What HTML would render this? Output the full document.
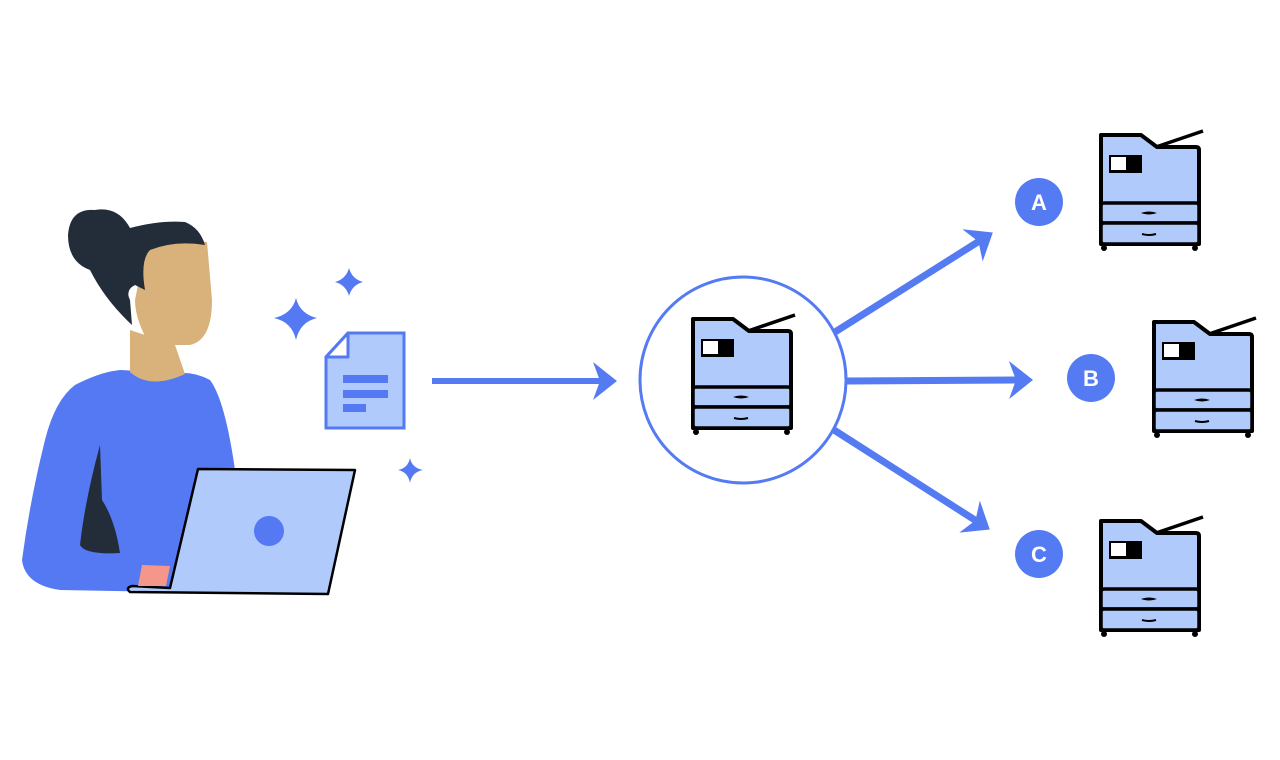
<!DOCTYPE html>
<html><head><meta charset="utf-8"><style>html,body{margin:0;padding:0;background:#fff}svg{display:block}</style></head>
<body>
<svg width="1280" height="760" viewBox="0 0 1280 760" xmlns="http://www.w3.org/2000/svg">
<defs>
<marker id="ah" markerUnits="userSpaceOnUse" markerWidth="40" markerHeight="44" refX="10" refY="20" orient="auto" viewBox="0 0 40 44">
<path d="M24,20 L0,1 L7,20 L0,39 Z" fill="#557bf3"/>
</marker>
<g id="pr">
<path d="M2,4 L42,4 L58,16 L97,16 Q100,16 100,19 L100,113 L2,113 Z" fill="#b0cbfb" stroke="#000" stroke-width="4" stroke-linejoin="round"/>
<line x1="57" y1="16" x2="104" y2="0" stroke="#000" stroke-width="3.5"/>
<rect x="10" y="24" width="33" height="18" fill="#000"/>
<rect x="12" y="26" width="15" height="13" fill="#fff"/>
<rect x="2" y="72" width="98" height="20" rx="3" fill="#b0cbfb" stroke="#000" stroke-width="3.5"/>
<rect x="2" y="92" width="98" height="21" rx="3" fill="#b0cbfb" stroke="#000" stroke-width="3.5"/>
<path d="M42,82 Q50,79 58,82 Q50,85 42,82Z" fill="#000"/>
<path d="M43,103 Q50,105 57,103" stroke="#000" stroke-width="2" fill="none"/>
<circle cx="5" cy="117" r="3" fill="#000"/><circle cx="96" cy="117" r="3" fill="#000"/>
</g>
</defs>

<!-- person -->
<path d="M120,370 Q100,372 75,385 Q55,400 45,440 Q30,500 22,560 Q25,585 60,590 L170,592 L235,470 Q225,400 210,380 Q195,372 180,373 Z" fill="#5479f3"/>
<path d="M100,445 Q85,500 80,545 Q85,555 120,553 Q115,520 102,500 Z" fill="#232c39"/>
<path d="M130,330 L130,372 Q150,390 185,374 L175,345 Z" fill="#d8b27a"/>
<path d="M145,250 Q170,238 207,242 L212,300 Q212,340 190,345 L150,345 Q135,320 135,300 Z" fill="#d8b27a"/>
<path d="M95,210 Q70,208 68,235 Q68,262 90,270 Q105,300 132,325 L130,300 Q125,290 135,285 L145,290 Q140,260 150,250 Q175,240 205,245 Q200,228 185,222 Q160,220 130,228 Q118,206 95,210Z" fill="#232c39"/>
<path d="M198,469 L355,470 L328,594 L130,592 Q125,588 132,586 L170,588 Z" fill="#b0cbfb" stroke="#000" stroke-width="2.5" stroke-linejoin="round"/>
<path d="M142,565 L170,566 L166,586 L138,586 Z" fill="#f4968a"/>
<circle cx="269" cy="531" r="15" fill="#5479f3"/>

<!-- sparkles -->
<path d="M296,298 Q300,314 317,318 Q300,322 296,340 Q292,322 274,318 Q292,314 296,298Z" fill="#5479f3"/>
<path d="M349,268 Q352,279 363,282 Q352,285 349,296 Q346,285 335,282 Q346,279 349,268Z" fill="#5479f3"/>
<path d="M410,458 Q412,468 423,470 Q412,472 410,483 Q408,472 398,470 Q408,468 410,458Z" fill="#5479f3"/>

<!-- document -->
<path d="M348,333 L404,333 L404,428 L326,428 L326,357 Z" fill="#b0cbfb" stroke="#5479f3" stroke-width="3"/>
<path d="M348,333 L348,357 L326,357 Z" fill="#fff" stroke="#5479f3" stroke-width="3" stroke-linejoin="round"/>
<rect x="343" y="375" width="45" height="8" fill="#5479f3"/>
<rect x="343" y="390" width="45" height="8" fill="#5479f3"/>
<rect x="343" y="404" width="23" height="8" fill="#5479f3"/>

<!-- arrows -->
<line x1="432" y1="381" x2="603" y2="381" stroke="#557bf3" stroke-width="6" marker-end="url(#ah)"/>
<circle cx="743" cy="380" r="103" fill="#fff" stroke="#557bf3" stroke-width="3"/>
<line x1="835" y1="332" x2="981" y2="240" stroke="#557bf3" stroke-width="7" marker-end="url(#ah)"/>
<line x1="847" y1="381" x2="1019" y2="380" stroke="#557bf3" stroke-width="7" marker-end="url(#ah)"/>
<line x1="834" y1="430" x2="978" y2="522" stroke="#557bf3" stroke-width="7" marker-end="url(#ah)"/>

<!-- printers -->
<use href="#pr" x="691" y="315"/>
<use href="#pr" x="1099" y="131"/>
<use href="#pr" x="1152" y="318"/>
<use href="#pr" x="1099" y="517"/>

<!-- labels -->
<g font-family="Liberation Sans, sans-serif" font-weight="bold" font-size="22" fill="#fff" text-anchor="middle">
<circle cx="1039" cy="202" r="24" fill="#557bf3"/><text x="1039" y="210">A</text>
<circle cx="1091" cy="378" r="24" fill="#557bf3"/><text x="1091" y="386">B</text>
<circle cx="1039" cy="554" r="24" fill="#557bf3"/><text x="1039" y="562">C</text>
</g>
</svg>
</body></html>
